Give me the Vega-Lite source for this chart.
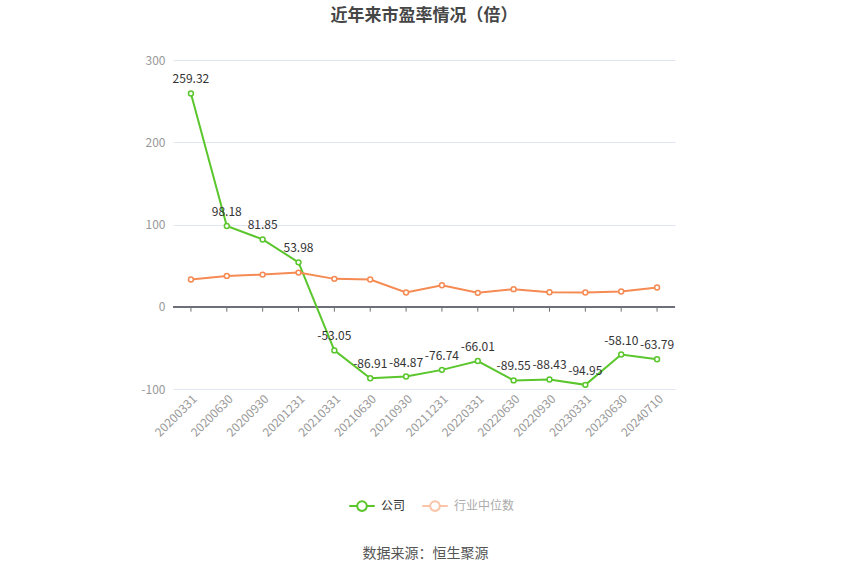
{
  "$schema": "https://vega.github.io/schema/vega-lite/v6.json",
  "autosize": {"type": "none"},
  "width": 502,
  "height": 329,
  "padding": {"left": 173, "top": 60, "right": 175, "bottom": 186},
  "background": "#ffffff",
  "config": {
    "font": "Noto Sans CJK SC",
    "view": {"stroke": null},
    "locale": {
      "number": {"decimal": ".", "thousands": ",", "grouping": [3], "currency": ["$", ""], "minus": "-"}
    }
  },
  "title": {
    "text": "近年来市盈率情况（倍）",
    "fontSize": 17,
    "fontWeight": "bold",
    "color": "#464646",
    "anchor": "middle",
    "offset": 29
  },
  "data": {
    "values": [
      {"date": "20200331", "series": "公司", "value": 259.32},
      {"date": "20200630", "series": "公司", "value": 98.18},
      {"date": "20200930", "series": "公司", "value": 81.85},
      {"date": "20201231", "series": "公司", "value": 53.98},
      {"date": "20210331", "series": "公司", "value": -53.05},
      {"date": "20210630", "series": "公司", "value": -86.91},
      {"date": "20210930", "series": "公司", "value": -84.87},
      {"date": "20211231", "series": "公司", "value": -76.74},
      {"date": "20220331", "series": "公司", "value": -66.01},
      {"date": "20220630", "series": "公司", "value": -89.55},
      {"date": "20220930", "series": "公司", "value": -88.43},
      {"date": "20230331", "series": "公司", "value": -94.95},
      {"date": "20230630", "series": "公司", "value": -58.10},
      {"date": "20240710", "series": "公司", "value": -63.79},
      {"date": "20200331", "series": "行业中位数", "value": 33.1},
      {"date": "20200630", "series": "行业中位数", "value": 37.5},
      {"date": "20200930", "series": "行业中位数", "value": 39.1},
      {"date": "20201231", "series": "行业中位数", "value": 41.5},
      {"date": "20210331", "series": "行业中位数", "value": 33.9},
      {"date": "20210630", "series": "行业中位数", "value": 33.1},
      {"date": "20210930", "series": "行业中位数", "value": 17.3},
      {"date": "20211231", "series": "行业中位数", "value": 26.2},
      {"date": "20220331", "series": "行业中位数", "value": 16.9},
      {"date": "20220630", "series": "行业中位数", "value": 21.4},
      {"date": "20220930", "series": "行业中位数", "value": 17.7},
      {"date": "20230331", "series": "行业中位数", "value": 17.3},
      {"date": "20230630", "series": "行业中位数", "value": 18.5},
      {"date": "20240710", "series": "行业中位数", "value": 23.4}
    ]
  },
  "encoding": {
    "x": {
      "field": "date",
      "type": "ordinal",
      "sort": null,
      "scale": {"type": "point", "padding": 0.5},
      "axis": {
        "title": "数据来源：恒生聚源",
        "titleFontSize": 14,
        "titleFontWeight": "normal",
        "titleColor": "#555555",
        "titleX": 252,
        "titleY": 164,
        "titleBaseline": "middle",
        "titleAnchor": "middle",
        "labelAngle": -45,
        "labelAlign": "right",
        "labelBaseline": "top",
        "labelColor": "#999999",
        "labelFontSize": 12,
        "labelPadding": 4,
        "domain": false,
        "ticks": false,
        "grid": false
      }
    },
    "y": {
      "field": "value",
      "type": "quantitative",
      "scale": {"domain": [-100, 300], "nice": false},
      "axis": {
        "title": null,
        "values": [-100, 0, 100, 200, 300],
        "labelColor": "#999999",
        "labelFontSize": 12,
        "labelPadding": 8,
        "domain": false,
        "ticks": false,
        "gridColor": "#e0e6f1",
        "gridWidth": 1
      }
    },
    "color": {
      "field": "series",
      "type": "nominal",
      "scale": {"domain": ["公司", "行业中位数"], "range": ["#5ac62c", "#f58a53"]},
      "legend": {
        "title": null,
        "orient": "none",
        "legendX": 175,
        "legendY": 432,
        "direction": "horizontal",
        "symbolType": "M-1,0L-0.38,0M0.38,0L1,0M0.38,0A0.38,0.38,0,1,1,-0.38,0A0.38,0.38,0,1,1,0.38,0",
        "symbolSize": 650,
        "symbolStrokeWidth": 2,
        "symbolFillColor": "#ffffff",
        "labelFontSize": 12,
        "labelColor": "#333333",
        "columnPadding": 12,
        "labelOffset": 5,
        "encode": {
          "symbols": {"update": {"opacity": {"signal": "datum.value === '公司' ? 1 : 0.5"}, "fill": {"value": "#ffffff"}}},
          "labels": {"update": {"fill": {"signal": "datum.value === '公司' ? '#333333' : '#aaaaaa'"}}}
        }
      }
    }
  },
  "layer": [
    {
      "mark": {"type": "rule", "color": "#6e7079", "strokeWidth": 1},
      "encoding": {
        "x": {"value": 0},
        "x2": {"value": 502},
        "y": {"datum": 0},
        "color": {"value": "#6e7079"}
      }
    },
    {
      "transform": [{"filter": "datum.series === '公司'"}],
      "mark": {"type": "rule", "strokeWidth": 1},
      "encoding": {
        "y": {"datum": 0},
        "y2": {"datum": -6},
        "color": {"value": "#6e7079"}
      }
    },
    {
      "mark": {"type": "line", "strokeWidth": 2}
    },
    {
      "mark": {"type": "point", "filled": false, "fill": "#ffffff", "fillOpacity": 1, "opacity": 1, "size": 24, "strokeWidth": 1.5}
    },
    {
      "transform": [{"filter": "datum.series === '公司'"}],
      "mark": {"type": "text", "dy": -10, "baseline": "alphabetic", "fontSize": 12},
      "encoding": {
        "text": {"field": "value", "type": "quantitative", "format": ".2f"},
        "color": {"value": "#333333"}
      }
    }
  ]
}
